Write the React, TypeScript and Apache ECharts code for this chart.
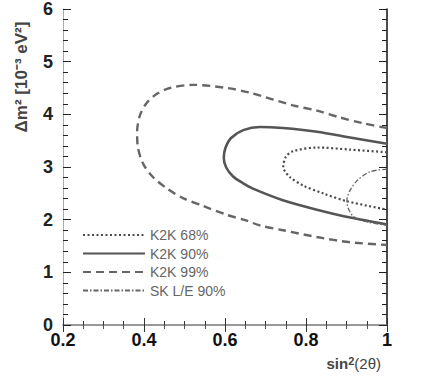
import React, { useEffect, useRef } from "react";
import * as echarts from "echarts";

// sin^2(2θ), Δm^2 [1e-3 eV^2]
const k2k68: [number, number][] = [
  [1.0, 3.28], [0.909, 3.33], [0.827, 3.37], [0.768, 3.3], [0.75, 3.19],
  [0.744, 3.0], [0.76, 2.81], [0.793, 2.65], [0.842, 2.5], [0.901, 2.35], [1.0, 2.19],
];
const k2k90: [number, number][] = [
  [1.0, 3.44], [0.909, 3.56], [0.827, 3.67], [0.743, 3.74], [0.686, 3.76],
  [0.645, 3.7], [0.615, 3.55], [0.601, 3.36], [0.597, 3.17], [0.603, 2.99],
  [0.62, 2.82], [0.645, 2.69], [0.669, 2.59], [0.743, 2.37], [0.827, 2.19], [0.909, 2.04], [1.0, 1.91],
];
const k2k99: [number, number][] = [
  [1.0, 3.74], [0.941, 3.83], [0.884, 3.94], [0.827, 4.07], [0.768, 4.17],
  [0.662, 4.41], [0.605, 4.5], [0.521, 4.56], [0.464, 4.5], [0.432, 4.39],
  [0.407, 4.22], [0.39, 3.98], [0.383, 3.67], [0.385, 3.37], [0.398, 3.06],
  [0.422, 2.81], [0.457, 2.59], [0.496, 2.41], [0.546, 2.26], [0.605, 2.09],
  [0.654, 1.98], [0.686, 1.89], [0.743, 1.8], [0.827, 1.67], [0.909, 1.57], [1.0, 1.52],
];
const skLE90: [number, number][] = [
  [1.0, 2.96], [0.958, 2.91], [0.926, 2.74], [0.909, 2.56], [0.901, 2.37],
  [0.904, 2.22], [0.916, 2.07], [0.938, 1.98], [1.0, 1.89],
];
const seriesNames = ["K2K 68%", "K2K 90%", "K2K 99%", "SK L/E 90%"];
const xRange = [0.2, 1];
const yRange = [0, 6];
const xTitle = { bold: "sin", sup: "2", rest: "(2θ)" };
const yTitle = "Δm² [10⁻³ eV²]";

const FONT = "'Liberation Sans', Arial, sans-serif";

export default function App() {
  const ref = useRef<HTMLDivElement>(null);
  useEffect(() => {
    if (!ref.current) return;
    const chart = echarts.init(ref.current, undefined, { renderer: "svg" });
    const axisCommon = {
      type: "value" as const,
      splitLine: { show: false },
    };
    chart.setOption({
      animation: false,
      backgroundColor: "#fff",
      grid: { left: 63, right: 49, top: 1, bottom: 54 },
      textStyle: { fontFamily: FONT },
      legend: {
        orient: "vertical",
        left: 77,
        top: 223,
        itemWidth: 62,
        itemHeight: 14,
        itemGap: 4.5,
        selectedMode: false,
        itemStyle: { opacity: 0, borderWidth: 0 },
        textStyle: { fontSize: 14, color: "#666", fontFamily: FONT },
        data: seriesNames,
      },
      xAxis: [
        {
          ...axisCommon,
          min: xRange[0],
          max: xRange[1],
          interval: 0.2,
          position: "bottom",
          axisLine: { show: true, lineStyle: { color: "#777", width: 1.5 } },
          axisTick: { show: true, inside: true, length: 7, lineStyle: { color: "#333" } },
          minorTick: { show: true, splitNumber: 4, length: 4, lineStyle: { color: "#333" } },
          axisLabel: {
            fontSize: 18,
            fontWeight: "bold",
            color: "#111",
            margin: 6,
            fontFamily: FONT,
            formatter: (v: number) => (v === 1 ? "1" : String(Math.round(v * 10) / 10)),
          },
        },
        {
          ...axisCommon,
          min: xRange[0],
          max: xRange[1],
          interval: 0.2,
          position: "top",
          axisLine: { show: false },
          axisTick: { show: true, inside: true, length: 7, lineStyle: { color: "#333" } },
          minorTick: { show: true, splitNumber: 4, length: 4, lineStyle: { color: "#555" } },
          axisLabel: { show: false },
        },
      ],
      yAxis: [
        {
          ...axisCommon,
          min: yRange[0],
          max: yRange[1],
          interval: 1,
          position: "left",
          axisLine: { show: true, lineStyle: { color: "#aaa", width: 1 } },
          axisTick: { show: true, inside: true, length: 8, lineStyle: { color: "#222" } },
          minorTick: { show: true, splitNumber: 5, length: 5, lineStyle: { color: "#222" } },
          axisLabel: {
            fontSize: 18,
            fontWeight: "bold",
            color: "#222",
            margin: 10,
            fontFamily: FONT,
          },
        },
        {
          ...axisCommon,
          min: yRange[0],
          max: yRange[1],
          interval: 1,
          position: "right",
          axisLine: { show: true, lineStyle: { color: "#111", width: 1.5 } },
          axisTick: { show: true, inside: true, length: 8, lineStyle: { color: "#222" } },
          minorTick: { show: true, splitNumber: 5, length: 5, lineStyle: { color: "#222" } },
          axisLabel: { show: false },
        },
      ],
      series: [
        {
          name: seriesNames[0],
          type: "line",
          data: k2k68,
          smooth: 0.3,
          symbol: "none",
          lineStyle: { color: "#4a4a4a", width: 2.2, type: [2, 2.5] },
          itemStyle: { color: "#4a4a4a" },
        },
        {
          name: seriesNames[1],
          type: "line",
          data: k2k90,
          smooth: 0.3,
          symbol: "none",
          lineStyle: { color: "#555", width: 2.6, type: "solid" },
          itemStyle: { color: "#555" },
        },
        {
          name: seriesNames[2],
          type: "line",
          data: k2k99,
          smooth: 0.3,
          symbol: "none",
          lineStyle: { color: "#666", width: 2.4, type: [8, 5] },
          itemStyle: { color: "#666" },
        },
        {
          name: seriesNames[3],
          type: "line",
          data: skLE90,
          smooth: 0.3,
          symbol: "none",
          lineStyle: { color: "#666", width: 1.3, type: [5, 2, 1.5, 2] },
          itemStyle: { color: "#666" },
        },
      ],
      graphic: [
        {
          type: "text",
          x: 21,
          y: 77,
          rotation: Math.PI / 2,
          style: {
            text: yTitle,
            fontSize: 17,
            fontWeight: "bold",
            fontFamily: FONT,
            fill: "#444",
            align: "center",
            verticalAlign: "middle",
          },
        },
        {
          type: "text",
          x: 381,
          y: 363,
          style: {
            text: `{b|${xTitle.bold}}{s|${xTitle.sup}}{r|${xTitle.rest}}`,
            align: "right",
            verticalAlign: "middle",
            rich: {
              b: { fontSize: 15, fontWeight: "bold", fontFamily: FONT, fill: "#444", verticalAlign: "bottom" },
              s: { fontSize: 11, fontWeight: "bold", fontFamily: FONT, fill: "#444", verticalAlign: "top" },
              r: { fontSize: 15, fontFamily: FONT, fill: "#444", verticalAlign: "bottom" },
            },
          },
        },
      ],
    });
    return () => chart.dispose();
  }, []);
  return <div ref={ref} style={{ width: 436, height: 379, position: "absolute", left: 0, top: 0 }} />;
}
